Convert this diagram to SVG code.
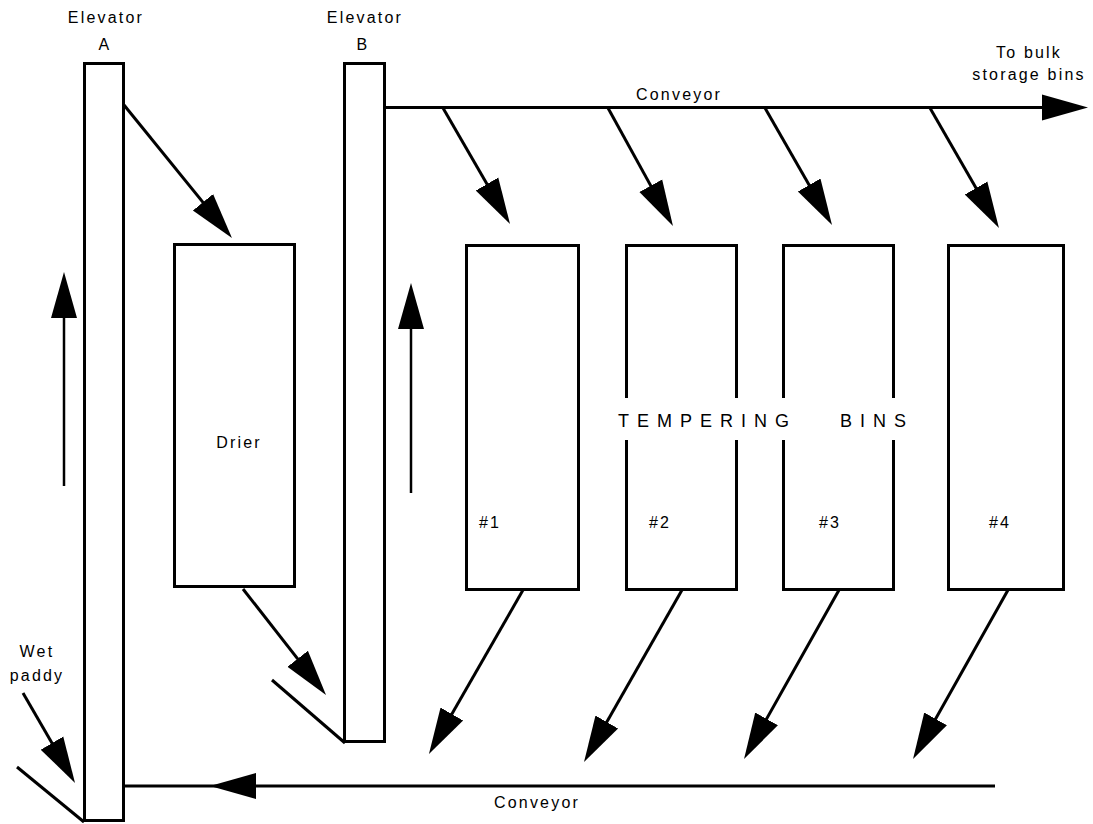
<svg xmlns="http://www.w3.org/2000/svg" width="1093" height="824" viewBox="0 0 1093 824">
<style>
  .box { fill: none; stroke: #000; stroke-width: 3; }
  .ln { fill: none; stroke: #000; stroke-width: 3; }
  .arr { fill: none; stroke: #000; stroke-width: 3; marker-end: url(#head); }
  .up { fill: none; stroke: #000; stroke-width: 2.5; marker-end: url(#head); }
  .hd { fill: #000; }
  text { font-family: "Liberation Sans", Arial, sans-serif; font-size: 16px; letter-spacing: 2.2px; fill: #000; }
  .mid { text-anchor: middle; }
  .big { font-size: 18px; letter-spacing: 8px; }
</style>
<defs>
  <marker id="head" markerUnits="userSpaceOnUse" markerWidth="50" markerHeight="30" viewBox="0 0 50 30" refX="21" refY="14" orient="auto">
    <path d="M0,1 L46,14 L0,27 Z" fill="#000"/>
  </marker>
</defs>
<rect width="1093" height="824" fill="#fff"/>

<g id="elevator-a">
  <rect class="box" x="84.5" y="63.5" width="39" height="757"/>
  <text class="mid" x="106" y="23">Elevator</text>
  <text class="mid" x="105" y="50">A</text>
</g>
<g id="elevator-b">
  <rect class="box" x="344.5" y="63.5" width="40" height="678"/>
  <text class="mid" x="365" y="23">Elevator</text>
  <text class="mid" x="363" y="50">B</text>
</g>
<g id="drier">
  <rect class="box" x="174.5" y="244.5" width="120" height="342"/>
  <text class="mid" x="239" y="448">Drier</text>
</g>
<g id="bin1">
  <rect class="box" x="466.5" y="245.5" width="112" height="344"/>
  <text class="mid" x="490" y="528">#1</text>
</g>
<g id="bin2">
  <rect class="box" x="626.5" y="245.5" width="110" height="344"/>
  <text class="mid" x="660" y="528">#2</text>
</g>
<g id="bin3">
  <rect class="box" x="783.5" y="245.5" width="110" height="344"/>
  <text class="mid" x="830" y="528">#3</text>
</g>
<g id="bin4">
  <rect class="box" x="948.5" y="245.5" width="115" height="344"/>
  <text class="mid" x="1000" y="528">#4</text>
</g>
<g id="tempering-label">
  <rect x="615" y="398" width="290" height="42" fill="#fff"/>
  <text class="big" x="618" y="427">TEMPERING</text>
  <text class="big" x="840" y="427">BINS</text>
</g>
<g id="wet-paddy">
  <text class="mid" x="37" y="657">Wet</text>
  <text class="mid" x="37" y="681">paddy</text>
</g>
<g id="bulk-storage">
  <text class="mid" x="1029" y="58">To bulk</text>
  <text class="mid" x="1029" y="80">storage bins</text>
</g>

<g id="connectors">
  <!-- top conveyor -->
  <line class="arr" x1="385" y1="107.5" x2="1063" y2="107.5"/>
  <text x="636" y="100">Conveyor</text>
  <!-- branches to tempering bins -->
  <line class="arr" x1="443" y1="108" x2="497.5" y2="202.3"/>
  <line class="arr" x1="608" y1="108" x2="660.9" y2="204.1"/>
  <line class="arr" x1="765" y1="108" x2="819.6" y2="203.3"/>
  <line class="arr" x1="930" y1="108" x2="986.5" y2="206.3"/>
  <!-- elevator A to drier -->
  <line class="arr" x1="124" y1="105" x2="216.2" y2="218.6"/>
  <!-- drier to elevator B -->
  <line class="arr" x1="243" y1="589" x2="310.6" y2="675.3"/>
  <line class="ln" x1="272" y1="680" x2="345" y2="743"/>
  <!-- wet paddy in -->
  <line class="arr" x1="23" y1="693" x2="62.5" y2="761.3"/>
  <line class="ln" x1="17" y1="767" x2="84" y2="822"/>
  <!-- elevator up arrows -->
  <line class="up" x1="64" y1="486" x2="64" y2="297"/>
  <line class="up" x1="411" y1="493" x2="411" y2="308"/>
  <!-- bins discharge -->
  <line class="arr" x1="523" y1="590" x2="441.4" y2="732.3"/>
  <line class="arr" x1="682" y1="590" x2="596.4" y2="740.3"/>
  <line class="arr" x1="839" y1="590" x2="756.3" y2="737.2"/>
  <line class="arr" x1="1008" y1="590" x2="925.3" y2="737.2"/>
  <!-- bottom conveyor -->
  <line class="ln" x1="995" y1="786" x2="124" y2="786"/>
  <polygon class="hd" points="210,786 256,773 256,799"/>
  <text class="mid" x="537" y="808">Conveyor</text>
</g>
</svg>
